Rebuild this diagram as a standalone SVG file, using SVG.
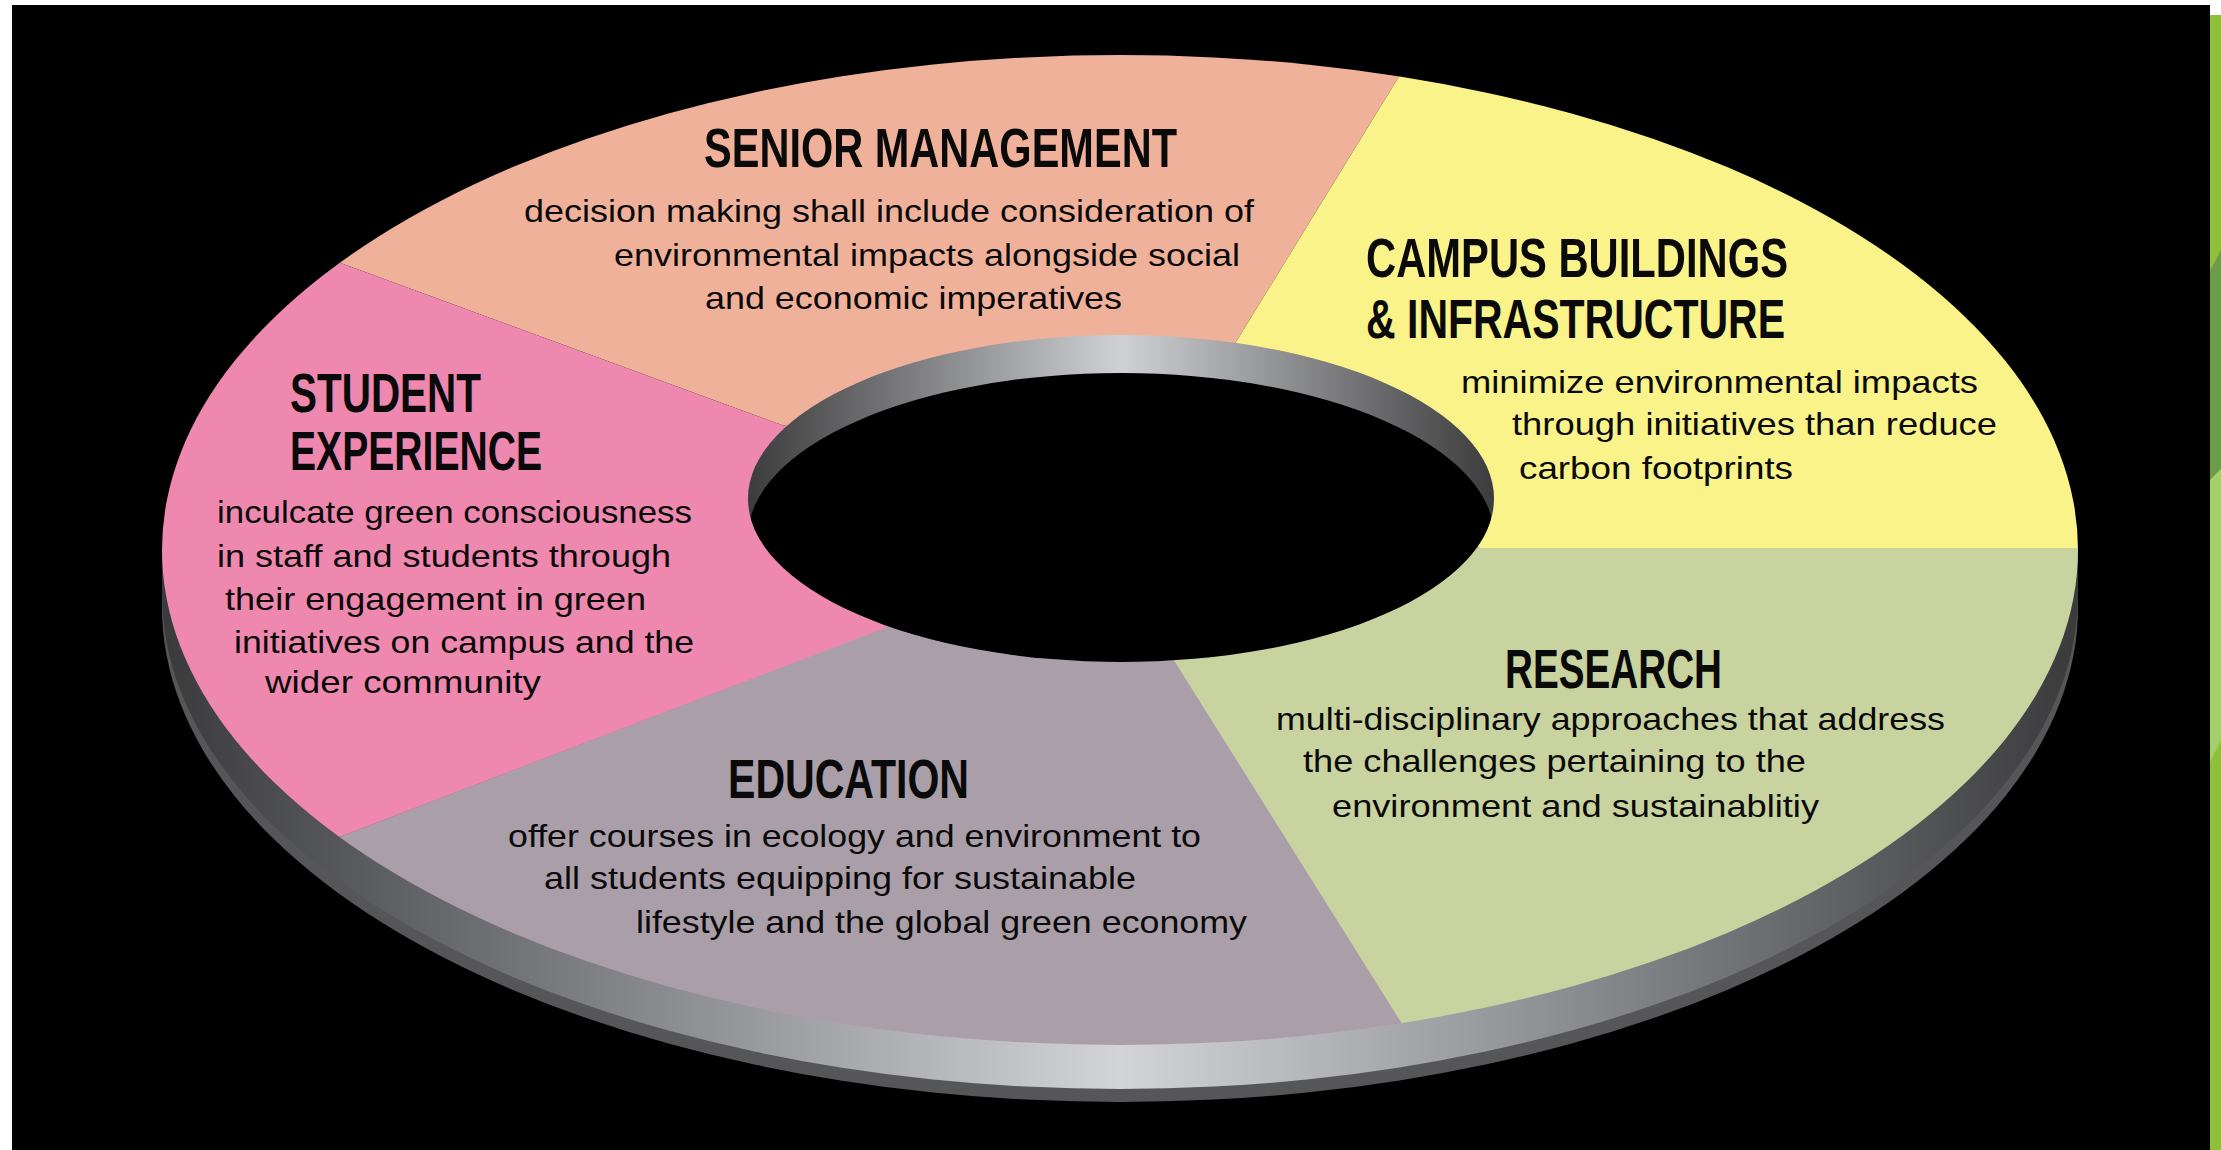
<svg xmlns="http://www.w3.org/2000/svg" width="2221" height="1150" viewBox="0 0 2221 1150">
  <defs>
    <style>
      .h { font-family: "Liberation Sans", Arial, sans-serif; font-weight: bold; font-size: 56px; fill: #0a0a0a; }
      .b { font-family: "Liberation Sans", Arial, sans-serif; font-size: 32px; fill: #0a0a0a; }
    </style>
    <linearGradient id="sideGrad" gradientUnits="userSpaceOnUse" x1="162" y1="0" x2="2078" y2="0">
      <stop offset="0" stop-color="#3a3a3b"/>
      <stop offset="0.12" stop-color="#5f6063"/>
      <stop offset="0.5" stop-color="#d3d4d7"/>
      <stop offset="0.88" stop-color="#5f6063"/>
      <stop offset="1" stop-color="#3a3a3b"/>
    </linearGradient>
    <linearGradient id="innerGrad" gradientUnits="userSpaceOnUse" x1="748" y1="0" x2="1494" y2="0">
      <stop offset="0" stop-color="#3c3c3d"/>
      <stop offset="0.5" stop-color="#d0d1d4"/>
      <stop offset="1" stop-color="#3c3c3d"/>
    </linearGradient>
    <clipPath id="topClip">
      <ellipse cx="1120" cy="550" rx="958" ry="495"/>
    </clipPath>
    <clipPath id="holeClip">
      <ellipse cx="1121" cy="498.5" rx="373" ry="163.5"/>
    </clipPath>
  </defs>

  <!-- page background -->
  <rect x="0" y="0" width="2221" height="1150" fill="#ffffff"/>
  <rect x="12" y="5" width="2198" height="1145" fill="#000000"/>
  <rect x="2210" y="15" width="11" height="1135" fill="#8fbf3b"/>
  <polygon points="2210,271 2221,250 2221,469 2210,480" fill="#6c9c47"/>
  <polygon points="2210,480 2221,469 2221,740 2210,762" fill="#a6cf6c"/>

  <!-- ring side (thickness) -->
  <g id="ring-side">
    <path d="M162,550 L162,607 A958,495 0 0 0 2078,607 L2078,550 Z" fill="#565658"/>
    <path d="M162,550 L162,594 A958,495 0 0 0 2078,594 L2078,550 Z" fill="url(#sideGrad)"/>
  </g>

  <!-- ring top surface segments -->
  <g id="ring-top" clip-path="url(#topClip)">
    <polygon id="seg-senior" points="1121,498 782,425 0,138 0,0 1446,0 1236,342" fill="#f0b19a"/>
    <polygon id="seg-campus" points="1121,498 1236,342 1446,0 2221,0 2221,548 1480,548" fill="#f9f389"/>
    <polygon id="seg-research" points="1121,498 1480,548 2221,548 2221,1150 1481,1150 1175,662" fill="#c9d39f"/>
    <polygon id="seg-education" points="1121,498 1175,662 1481,1150 0,1150 0,967 890,626" fill="#aa9fa9"/>
    <polygon id="seg-student" points="1121,498 890,626 0,967 0,138 782,425" fill="#ee88ae"/>
  </g>

  <!-- central hole -->
  <g id="hole">
    <ellipse cx="1121" cy="498.5" rx="373" ry="163.5" fill="url(#innerGrad)"/>
    <ellipse cx="1121" cy="536.5" rx="373" ry="163.5" fill="#000000" clip-path="url(#holeClip)"/>
  </g>

  <g id="node-senior-management">
    <text class="h" x="704" y="167" textLength="473" lengthAdjust="spacingAndGlyphs">SENIOR MANAGEMENT</text>
    <text class="b" x="524" y="222" textLength="730" lengthAdjust="spacingAndGlyphs">decision making shall include consideration of</text>
    <text class="b" x="614" y="266" textLength="626" lengthAdjust="spacingAndGlyphs">environmental impacts alongside social</text>
    <text class="b" x="705" y="309" textLength="417" lengthAdjust="spacingAndGlyphs">and economic imperatives</text>
  </g>

  <g id="node-campus-buildings">
    <text class="h" x="1366" y="277" textLength="422" lengthAdjust="spacingAndGlyphs">CAMPUS BUILDINGS</text>
    <text class="h" x="1366" y="338" textLength="419" lengthAdjust="spacingAndGlyphs">&amp; INFRASTRUCTURE</text>
    <text class="b" x="1461" y="393" textLength="517" lengthAdjust="spacingAndGlyphs">minimize environmental impacts</text>
    <text class="b" x="1512" y="435" textLength="485" lengthAdjust="spacingAndGlyphs">through initiatives than reduce</text>
    <text class="b" x="1519" y="479" textLength="274" lengthAdjust="spacingAndGlyphs">carbon footprints</text>
  </g>

  <g id="node-research">
    <text class="h" x="1505" y="688" textLength="217" lengthAdjust="spacingAndGlyphs">RESEARCH</text>
    <text class="b" x="1276" y="730" textLength="669" lengthAdjust="spacingAndGlyphs">multi-disciplinary approaches that address</text>
    <text class="b" x="1303" y="772" textLength="503" lengthAdjust="spacingAndGlyphs">the challenges pertaining to the</text>
    <text class="b" x="1332" y="817" textLength="487" lengthAdjust="spacingAndGlyphs">environment and sustainablitiy</text>
  </g>

  <g id="node-education">
    <text class="h" x="728" y="798" textLength="241" lengthAdjust="spacingAndGlyphs">EDUCATION</text>
    <text class="b" x="508" y="847" textLength="693" lengthAdjust="spacingAndGlyphs">offer courses in ecology and environment to</text>
    <text class="b" x="544" y="889" textLength="592" lengthAdjust="spacingAndGlyphs">all students equipping for sustainable</text>
    <text class="b" x="636" y="933" textLength="611" lengthAdjust="spacingAndGlyphs">lifestyle and the global green economy</text>
  </g>

  <g id="node-student-experience">
    <text class="h" x="290" y="412" textLength="191" lengthAdjust="spacingAndGlyphs">STUDENT</text>
    <text class="h" x="290" y="470" textLength="252" lengthAdjust="spacingAndGlyphs">EXPERIENCE</text>
    <text class="b" x="217" y="523" textLength="475" lengthAdjust="spacingAndGlyphs">inculcate green consciousness</text>
    <text class="b" x="217" y="567" textLength="454" lengthAdjust="spacingAndGlyphs">in staff and students through</text>
    <text class="b" x="225" y="610" textLength="421" lengthAdjust="spacingAndGlyphs">their engagement in green</text>
    <text class="b" x="234" y="653" textLength="460" lengthAdjust="spacingAndGlyphs">initiatives on campus and the</text>
    <text class="b" x="265" y="693" textLength="276" lengthAdjust="spacingAndGlyphs">wider community</text>
  </g>

  <g id="connectors"/>
</svg>
